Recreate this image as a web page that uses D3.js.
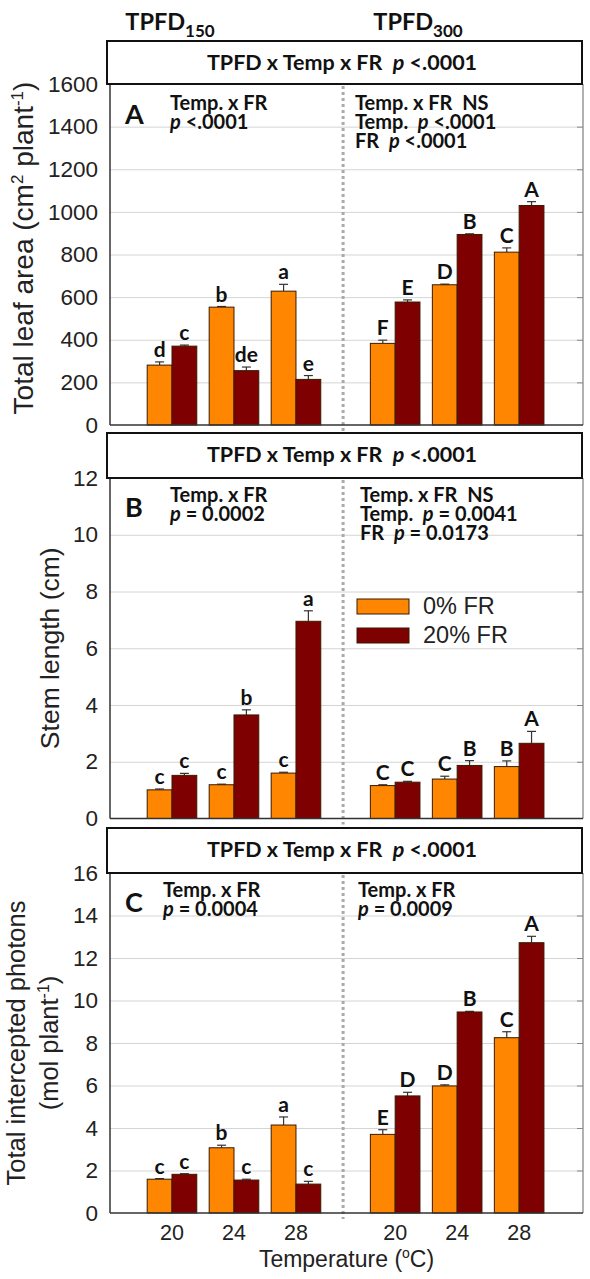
<!DOCTYPE html>
<html><head><meta charset="utf-8">
<script src="https://cdn.jsdelivr.net/npm/d3@7"></script>
<style>body{margin:0;background:#fff} svg{display:block} text{white-space:pre}</style>
</head><body><svg id="c" width="590" height="1279"></svg>
<script>
// ---------- data ----------
const temps = ["20", "24", "28"];
const tpfdLevels = ["150", "300"];
const frLevels = ["0% FR", "20% FR"];

// order: TPFD150 20,24,28 then TPFD300 20,24,28
const leafArea0 = [281, 553, 628, 383, 658, 811];
const leafArea20 = [370, 255, 214, 577, 894, 1030];
const leafErr0 = [15, 3, 32, 15, 3, 20];
const leafErr20 = [5, 17, 18, 10, 3, 18];
const leafLet0 = ["d", "b", "a", "F", "D", "C"];
const leafLet20 = ["c", "de", "e", "E", "B", "A"];
const leafTicks = [0, 200, 400, 600, 800, 1000, 1200, 1400, 1600];

const stem0 = [1.01, 1.19, 1.60, 1.16, 1.39, 1.83];
const stem20 = [1.52, 3.65, 6.95, 1.28, 1.87, 2.65];
const stemErr0 = [0.03, 0.02, 0.03, 0.03, 0.10, 0.20];
const stemErr20 = [0.07, 0.18, 0.37, 0.03, 0.17, 0.42];
const stemLet0 = ["c", "c", "c", "C", "C", "B"];
const stemLet20 = ["c", "b", "a", "C", "B", "A"];
const stemTicks = [0, 2, 4, 6, 8, 10, 12];

const phot0 = [1.59, 3.07, 4.14, 3.70, 5.98, 8.25];
const phot20 = [1.82, 1.55, 1.36, 5.51, 9.46, 12.72];
const photErr0 = [0.03, 0.12, 0.38, 0.22, 0.05, 0.28];
const photErr20 = [0.03, 0.04, 0.13, 0.17, 0.03, 0.30];
const photLet0 = ["c", "b", "a", "E", "D", "C"];
const photLet20 = ["c", "c", "c", "D", "B", "A"];
const photTicks = [0, 2, 4, 6, 8, 10, 12, 14, 16];

const headerText = "TPFD x Temp x FR";
const headerP = "<.0001";
const annLeftA = [["Temp. x FR"], ["p", " <.0001"]];
const annRightA = [["Temp. x FR  NS"], ["Temp.  ", "p", " <.0001"], ["FR  ", "p", " <.0001"]];
const annLeftB = [["Temp. x FR"], ["p", " = 0.0002"]];
const annRightB = [["Temp. x FR  NS"], ["Temp.  ", "p", " = 0.0041"], ["FR  ", "p", " = 0.0173"]];
const annLeftC = [["Temp. x FR"], ["p", " = 0.0004"]];
const annRightC = [["Temp. x FR"], ["p", " = 0.0009"]];

// ---------- styling / layout ----------
const COL0 = "#FF8600", COL20 = "#7E0000";
const AXF = "'Liberation Sans', Arial, sans-serif";
const BF = "Lato, 'Open Sans', sans-serif";
const svg = d3.select("#c");
const xL = 110, xR = 583;
const x = d3.scaleLinear().domain([0, 7.63]).range([xL, xR]);
const slot = (i) => 1 + (i % 3) + Math.floor(i / 3) * 3.6;
const divider = 3.76;
const bw = 0.4;

const panels = [
  {letter: "A", hdr: 41, top: 84, bot: 425, ticks: leafTicks, v0: leafArea0, v20: leafArea20, e0: leafErr0, e20: leafErr20, l0: leafLet0, l20: leafLet20, annL: annLeftA, annR: annRightA, annY: 110, annLX: 170, annRX: 355, letY: 124},
  {letter: "B", hdr: 433, top: 478, bot: 818.5, ticks: stemTicks, v0: stem0, v20: stem20, e0: stemErr0, e20: stemErr20, l0: stemLet0, l20: stemLet20, annL: annLeftB, annR: annRightB, annY: 502, annLX: 170, annRX: 360, letY: 517},
  {letter: "C", hdr: 828, top: 873, bot: 1213, ticks: photTicks, v0: phot0, v20: phot20, e0: photErr0, e20: photErr20, l0: photLet0, l20: photLet20, annL: annLeftC, annR: annRightC, annY: 897, annLX: 163, annRX: 358, letY: 912}
];

// titles
tpfdLevels.forEach((lv, k) => {
  const t = svg.append("text").attr("x", k === 0 ? 170 : 418).attr("y", 30)
    .attr("text-anchor", "middle").attr("font-family", BF).attr("font-weight", "bold").attr("font-size", 23.5).attr("fill", "#111");
  t.append("tspan").text("TPFD");
  t.append("tspan").attr("font-size", 17).attr("dy", 7).text(lv);
});

function annot(g, lines, x0, y0, fs, lh) {
  lines.forEach((parts, i) => {
    const t = g.append("text").attr("x", x0).attr("y", y0 + i * lh)
      .attr("font-family", BF).attr("font-weight", "bold").attr("font-size", fs).attr("fill", "#111");
    parts.forEach(p => {
      const s = t.append("tspan").text(p);
      if (p === "p") s.attr("font-style", "italic");
    });
  });
}

panels.forEach((P, pi) => {
  const y = d3.scaleLinear().domain([0, P.ticks[P.ticks.length - 1]]).range([P.bot, P.top]);
  const g = svg.append("g");

  // gridlines
  g.append("g").attr("transform", `translate(${xL},0)`)
    .call(d3.axisLeft(y).tickValues(P.ticks.slice(1, -1)).tickSize(-(xR - xL)).tickFormat(""))
    .call(a => a.select(".domain").remove())
    .call(a => a.selectAll("line").attr("stroke", "#d4d4d4").attr("stroke-width", 1));
  // right ticks
  g.append("g").attr("transform", `translate(${xR},0)`)
    .call(d3.axisLeft(y).tickValues(P.ticks.slice(1, -1)).tickSize(6).tickFormat(""))
    .call(a => a.select(".domain").remove())
    .call(a => a.selectAll("line").attr("stroke", "#888"));
  // right frame
  g.append("line").attr("x1", xR).attr("x2", xR).attr("y1", P.top).attr("y2", P.bot).attr("stroke", "#888").attr("stroke-width", 1.3);
  // left axis labels
  g.append("g").attr("transform", `translate(${xL},0)`)
    .call(d3.axisLeft(y).tickValues(P.ticks).tickSize(0).tickPadding(12).tickFormat(d3.format("d")))
    .call(a => a.select(".domain").remove())
    .call(a => a.selectAll("text").attr("font-family", AXF).attr("font-size", 22.5).attr("fill", "#222"));

  // divider
  g.append("line").attr("x1", x(divider)).attr("x2", x(divider)).attr("y1", P.top + 2).attr("y2", P.bot + 6)
    .attr("stroke", "#aaa").attr("stroke-width", 3).attr("stroke-dasharray", "3,3");

  // bars
  const rows = P.v0.map((v, i) => ({i, v0: v, v20: P.v20[i], e0: P.e0[i], e20: P.e20[i], l0: P.l0[i], l20: P.l20[i]}));
  const series = [
    {key: "v0", e: "e0", l: "l0", col: COL0, off: -bw},
    {key: "v20", e: "e20", l: "l20", col: COL20, off: 0}
  ];
  series.forEach(s => {
    const bars = g.append("g");
    rows.forEach(r => {
      const cx = x(slot(r.i) + s.off + bw / 2);
      const yt = y(r[s.key] + r[s.e]);
      bars.append("line").attr("x1", cx).attr("x2", cx).attr("y1", y(r[s.key])).attr("y2", yt).attr("stroke", "#333").attr("stroke-width", 1.2);
      bars.append("line").attr("x1", cx - 4.5).attr("x2", cx + 4.5).attr("y1", yt).attr("y2", yt).attr("stroke", "#333").attr("stroke-width", 1.2);
      bars.append("text").attr("x", cx).attr("y", yt - 5).attr("text-anchor", "middle")
        .attr("font-family", BF).attr("font-weight", "bold").attr("font-size", 21).attr("fill", "#111").text(r[s.l]);
    });
    bars.selectAll("rect").data(rows).join("rect")
      .attr("x", r => x(slot(r.i) + s.off)).attr("width", x(bw) - x(0))
      .attr("y", r => y(r[s.key])).attr("height", r => y(0) - y(r[s.key]))
      .attr("fill", s.col).attr("stroke", "#3a1a00").attr("stroke-width", 1);
  });

  // axes lines
  g.append("line").attr("x1", xL).attr("x2", xL).attr("y1", P.top).attr("y2", P.bot).attr("stroke", "#333").attr("stroke-width", 1.5);
  g.append("line").attr("x1", xL).attr("x2", xR).attr("y1", P.bot).attr("y2", P.bot).attr("stroke", "#333").attr("stroke-width", 1.5);

  // header box
  g.append("rect").attr("x", 107).attr("y", P.hdr).attr("width", xR - 1 - 107).attr("height", P.top - P.hdr)
    .attr("fill", "#fff").attr("stroke", "#111").attr("stroke-width", 2);
  const ht = g.append("text").attr("x", (107 + xR) / 2 - 3).attr("y", P.hdr + 29).attr("text-anchor", "middle")
    .attr("font-family", BF).attr("font-weight", "bold").attr("font-size", 21.5).attr("fill", "#111");
  ht.append("tspan").text(headerText + "  ");
  ht.append("tspan").attr("font-style", "italic").text("p");
  ht.append("tspan").text(" " + headerP);

  // panel letter & annotations
  g.append("text").attr("x", 125).attr("y", P.letY).attr("font-family", BF).attr("font-weight", "bold")
    .attr("font-size", 27).attr("fill", "#111").text(P.letter);
  annot(g, P.annL, P.annLX, P.annY, 20, 19);
  annot(g, P.annR, P.annRX, P.annY, 20, 19);
});

// y labels
(function () {
  const yA = 248;
  const t = svg.append("text").attr("transform", `translate(33,${yA}) rotate(-90)`).attr("text-anchor", "middle")
    .attr("font-family", AXF).attr("font-size", 28).attr("fill", "#222");
  t.append("tspan").text("Total leaf area (cm");
  t.append("tspan").attr("font-size", 17).attr("dy", -10).text("2");
  t.append("tspan").attr("dy", 10).text(" plant");
  t.append("tspan").attr("font-size", 17).attr("dy", -10).text("-1");
  t.append("tspan").attr("dy", 10).text(")");

  const yB = (478 + 818.5) / 2;
  svg.append("text").attr("transform", `translate(59,${yB}) rotate(-90)`).attr("text-anchor", "middle")
    .attr("font-family", AXF).attr("font-size", 26.5).attr("fill", "#222").text("Stem length (cm)");

  const yC = (873 + 1213) / 2;
  svg.append("text").attr("transform", `translate(25,${yC}) rotate(-90)`).attr("text-anchor", "middle")
    .attr("font-family", AXF).attr("font-size", 25.5).attr("fill", "#222").text("Total intercepted photons");
  const t2 = svg.append("text").attr("transform", `translate(58,${yC}) rotate(-90)`).attr("text-anchor", "middle")
    .attr("font-family", AXF).attr("font-size", 25.5).attr("fill", "#222");
  t2.append("tspan").text("(mol plant");
  t2.append("tspan").attr("font-size", 16).attr("dy", -9).text("-1");
  t2.append("tspan").attr("dy", 9).text(")");
})();

// x tick labels (bottom panel)
d3.range(6).forEach(i => {
  svg.append("text").attr("x", x(slot(i))).attr("y", 1240).attr("text-anchor", "middle")
    .attr("font-family", AXF).attr("font-size", 21.5).attr("fill", "#222").text(temps[i % 3]);
});
const xt = svg.append("text").attr("x", (xL + xR) / 2).attr("y", 1267).attr("text-anchor", "middle")
  .attr("font-family", AXF).attr("font-size", 23).attr("fill", "#222");
xt.append("tspan").text("Temperature (");
xt.append("tspan").attr("font-size", 14).attr("dy", -9).text("o");
xt.append("tspan").attr("dy", 9).text("C)");

// legend (panel B)
frLevels.forEach((lab, k) => {
  const ly = 599 + k * 29;
  svg.append("rect").attr("x", 357).attr("y", ly).attr("width", 52).attr("height", 15)
    .attr("fill", k === 0 ? COL0 : COL20).attr("stroke", "#3a1a00").attr("stroke-width", 1);
  svg.append("text").attr("x", 423).attr("y", ly + 15).attr("font-family", AXF).attr("font-size", 23.5)
    .attr("fill", "#222").text(lab);
});
</script></body></html>
